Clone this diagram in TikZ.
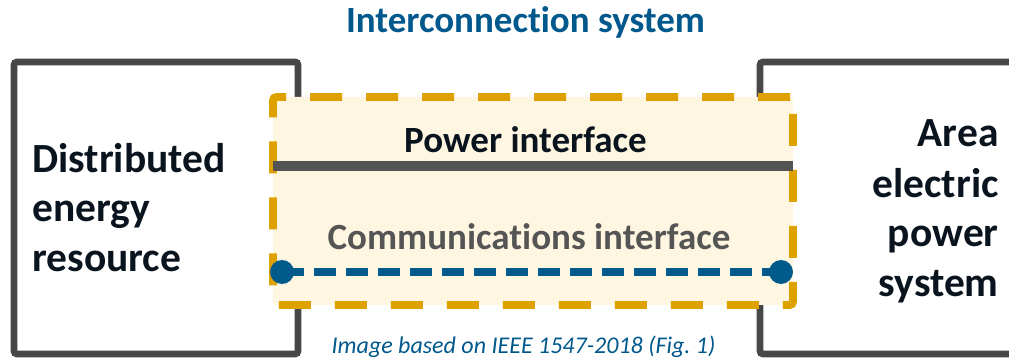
\documentclass[tikz,border=0pt]{standalone}
\usepackage{fontspec}
\setmainfont{Carlito}[Ligatures=NoCommon]
\frenchspacing
\definecolor{boxgray}{RGB}{71,71,71}
\definecolor{pwrgray}{RGB}{84,84,84}
\definecolor{ifcorange}{RGB}{221,161,0}
\definecolor{ifccream}{RGB}{255,246,225}
\definecolor{commblue}{RGB}{0,90,140}
\definecolor{titleblue}{RGB}{0,88,140}
\definecolor{darktext}{RGB}{10,20,30}
\definecolor{commgray}{RGB}{85,85,85}
\tikzset{
  sysbox/.style={draw=boxgray, line width=3.4pt, rounded corners=1.5pt, inner sep=0pt, outer sep=0pt, anchor=north west},
  ifcbox/.style={draw=ifcorange, fill=ifccream, line width=3.8pt, rounded corners=1.5pt,
     dash pattern=on 16pt off 12pt, inner sep=0pt, outer sep=0pt, anchor=north west},
  bigtext/.style={font=\bfseries\fontsize{20.75}{25}\selectfont, text=darktext, inner sep=0pt},
  midtext/.style={font=\bfseries\fontsize{18.5}{22}\selectfont, inner sep=0pt, anchor=base},
  pwrline/.style={draw=pwrgray, line width=4.6pt},
  commline/.style={draw=commblue, line width=3.9pt, dash pattern=on 11pt off 5pt},
  commdot/.style={circle, fill=commblue, minimum size=12pt, inner sep=0pt},
}
\begin{document}
\begin{tikzpicture}[x=0.5pt,y=-0.5pt]
\useasboundingbox (0,0) rectangle (1009,358);
% system boxes
\node[sysbox, minimum width=142pt, minimum height=146pt] (der) at (14,62) {};
\node[sysbox, minimum width=140pt, minimum height=146pt] (eps) at (760,62) {};
% interconnection system
\node[ifcbox, minimum width=260pt, minimum height=104pt] (ifc) at (273,97) {};
% power interface line
\coordinate (pL) at (273,166);
\coordinate (pR) at (793,166);
\draw[pwrline] (pL) -- (pR);
% communications interface
\node[commdot] (cL) at (282,272) {};
\node[commdot] (cR) at (781,272) {};
\draw[commline] (cL.center) -- (cR.center);
% texts
\node[midtext, text=titleblue] (title) at (525.5,33) {Interconnection system};
\node[bigtext, align=left, anchor=base west] (dertext) at (32,272) {Distributed\\energy\\resource};
\node[bigtext, align=right, anchor=base east] (epstext) at (999,297) {Area\\electric\\power\\system};
\node[midtext, text=darktext] (pwrtext) at (525.5,153) {Power interface};
\node[midtext, text=commgray] (commtext) at (529,250) {Communications interface};
\node[font=\itshape\fontsize{12}{14}\selectfont, text=titleblue, inner sep=0pt, anchor=base] (caption) at (523.5,354) {Image based on IEEE 1547-2018 (Fig. 1)};
\end{tikzpicture}
\end{document}
